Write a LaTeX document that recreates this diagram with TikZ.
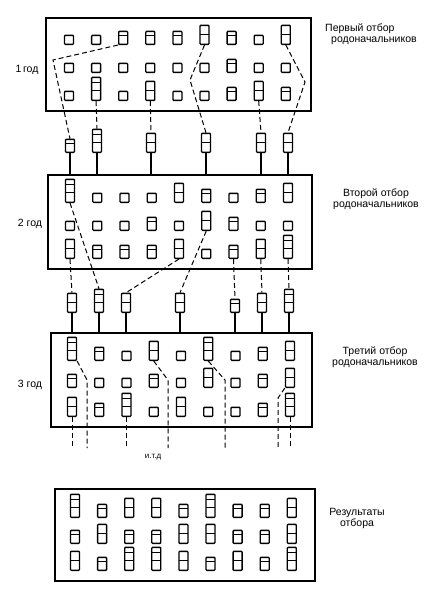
\documentclass[tikz,border=0pt]{standalone}
\usepackage{fontspec}
\setmainfont{Liberation Sans}
\newcommand\plantcut[1]{\draw[line width=1pt] ([yshift=#1]path picture bounding box.south west) -- ([yshift=#1]path picture bounding box.south east);}
\begin{document}
\begin{tikzpicture}[x=1pt,y=-1pt,
  field/.style={line width=1.4pt},
  plant/.style={draw,line width=1.3pt,rounded corners=0.8pt,minimum width=9pt,inner sep=0pt,anchor=south},
  pq/.style={plant,minimum height=9pt},
  pt/.style={plant,minimum height=13pt,path picture={\plantcut{8.7pt}}},
  pd/.style={plant,minimum height=19pt,path picture={\plantcut{9.5pt}}},
  pe/.style={plant,minimum height=23pt,path picture={\plantcut{10pt}\plantcut{18pt}}},
  link/.style={line width=1pt,dash pattern=on 5pt off 3pt},
  stem/.style={line width=1.1pt},
  lbl/.style={font=\fontsize{10.5}{11}\selectfont,align=center,inner sep=0pt}]
\useasboundingbox (0,0) rectangle (431,600);

\draw[field] (46,18) coordinate (b1nw) rectangle (311,111);
\foreach \y/\row [count=\j] in {45/{q,q,t,t,t,d,t,q,d},73/{q,q,q,q,q,q,t,q,q},101/{q,e,q,d,q,q,t,d,t}}
  \foreach \t [count=\i] in \row
    \node[p\t] (p1-\j-\i) at ({69+27.1*(\i-1)},\y) {};
\node[lbl] (g1) at (27,70) {1\,год};
\node[lbl,align=left,anchor=north west] (t1) at (325,24) {Первый отбор\\\hspace*{6pt}родоначальников};

\foreach \x/\t [count=\i] in {70/t,97/e,151/d,206/d,261/d,288/d}
  \node[p\t] (s1-\i) at (\x,153) {};

\coordinate (k1a) at (53,60);
\coordinate (k1b) at (190,80);
\coordinate (k1c) at (305,82);
\draw[link] (p1-1-3.south west) -- (k1a) -- (s1-1.north);
\draw[link] (p1-3-2.south) -- (s1-2.north);
\draw[link] (p1-3-4.south) -- (s1-3.north);
\draw[link] (p1-1-6.south) -- (k1b) -- (s1-4.north);
\draw[link] (p1-3-8.south) -- (s1-5.north);
\draw[link] (p1-1-9.south) -- (k1c) -- (s1-6.north);

\draw[field] (48,175) coordinate (b2nw) rectangle (312,269);
\foreach \i in {1,...,6}
  \draw[stem] (s1-\i.south) -- (s1-\i.south |- b2nw);
\foreach \y/\row [count=\j] in {203/{e,q,q,q,d,t,q,t,d},231/{q,q,q,t,q,d,t,q,q},259/{d,t,t,t,d,q,t,d,e}}
  \foreach \t [count=\i] in \row
    \node[p\t] (p2-\j-\i) at ({70+27.25*(\i-1)},\y) {};
\node[lbl] (g2) at (30,224) {2 год};
\node[lbl] (t2) at (376,199) {Второй отбор\\родоначальников};

\foreach \x/\t [count=\i] in {72/d,99/e,126/d,180/d,235/t,262/d,289/e}
  \node[p\t] (s2-\i) at (\x,313) {};

\draw[link] (p2-1-1.south) -- (s2-2.north);
\draw[link] (p2-3-1.south) -- (s2-1.north);
\draw[link] (p2-3-5.south) -- (s2-3.north);
\draw[link] (p2-2-6.south) -- (s2-4.north);
\draw[link] (p2-3-7.south) -- (s2-5.north);
\draw[link] (p2-3-8.south) -- (s2-6.north);
\draw[link] (p2-3-9.south) -- (s2-7.north);

\draw[field] (51,333) coordinate (b3nw) rectangle (312,427);
\foreach \i in {1,...,7}
  \draw[stem] (s2-\i.south) -- (s2-\i.south |- b3nw);
\foreach \y/\row [count=\j] in {361/{e,t,q,d,q,e,q,t,d},388/{t,q,q,t,q,d,q,t,d},417/{d,t,e,q,d,q,q,t,e}}
  \foreach \t [count=\i] in \row
    \node[p\t] (p3-\j-\i) at ({72+27.25*(\i-1)},\y) {};
\node[lbl] (g3) at (30,385) {3 год};
\node[lbl] (t3) at (375,357) {Третий отбор\\родоначальников};

\coordinate (e3) at (0,448);
\coordinate (k3a) at (87,380);
\coordinate (k3b) at (168,380);
\coordinate (k3c) at (225,380);
\coordinate (k3d) at (278,398);
\draw[link] (p3-1-1.south east) -- (k3a) -- (k3a |- e3);
\draw[link] (p3-3-1.south) -- (p3-3-1.south |- e3);
\draw[link] (p3-3-3.south) -- (p3-3-3.south |- e3);
\draw[link] (p3-1-4.south) -- (k3b) -- (k3b |- e3);
\draw[link] (p3-1-6.south) -- (k3c) -- (k3c |- e3);
\draw[link] (p3-2-9.south west) -- (k3d) -- (k3d |- e3);
\draw[link] (p3-3-9.south) -- (p3-3-9.south |- e3);
\node[font=\fontsize{8}{9}\selectfont] (etc) at (153,457) {и.т.д};

\draw[field] (55,489) rectangle (315,581);
\foreach \y/\row [count=\j] in {518/{e,t,d,d,t,e,t,t,d},544/{t,d,t,t,d,d,t,t,d},571/{d,t,e,e,d,t,d,t,e}}
  \foreach \t [count=\i] in \row
    \node[p\t] (p4-\j-\i) at ({75+27.1*(\i-1)},\y) {};
\node[lbl] (t4) at (357,518) {Результаты\\отбора};
\end{tikzpicture}
\end{document}
